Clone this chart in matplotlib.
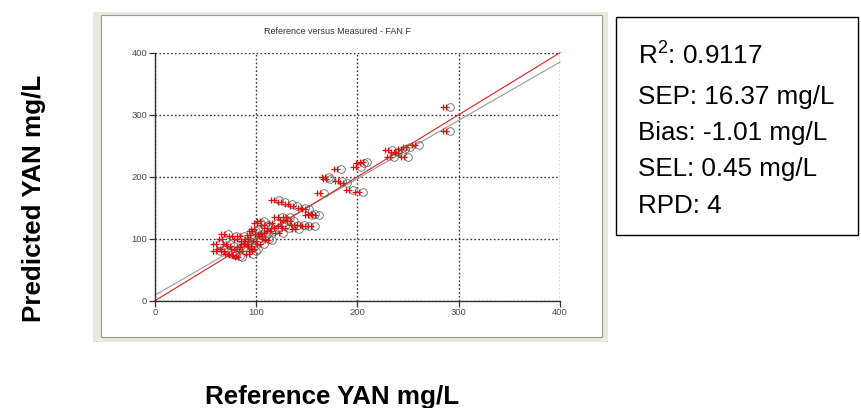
import matplotlib.pyplot as plt
from matplotlib.patches import Rectangle
import numpy as np

plt.rcParams['font.family'] = ['Liberation Sans', 'DejaVu Sans']
plt.rcParams['mathtext.fontset'] = 'custom'
plt.rcParams['mathtext.rm'] = 'Liberation Sans'

# reference vs predicted YAN (mg/L)
ref = [291, 291, 261, 250, 247, 240, 236, 252, 244, 234,
       209, 206, 203, 205, 196, 184, 185, 190, 172, 173, 167,
       122, 128, 135, 140, 148, 152, 158, 162, 155, 147, 152, 158, 141,
       130, 125, 133, 137, 128, 120, 122, 115, 112, 108, 105, 118, 112,
       110, 113, 116, 106, 102, 100, 98, 96, 95, 99, 100, 97, 102, 92,
       88, 85, 80, 72, 70, 64, 64, 68, 72, 76, 80, 84, 86, 82, 78, 74,
       88, 90, 92, 104, 108, 126, 132, 142]
pred = [313, 274, 251, 232, 245, 240, 232, 248, 238, 243,
        224, 222, 216, 176, 178, 212, 193, 190, 200, 197, 174,
        162, 159, 156, 152, 150, 148, 140, 138, 138, 122, 121, 120, 122,
        130, 135, 135, 128, 120, 125, 118, 118, 122, 128, 125, 112, 110,
        104, 100, 98, 108, 115, 112, 106, 100, 92, 88, 80, 75, 84, 96,
        104, 100, 104, 108, 100, 92, 80, 84, 80, 76, 74, 72, 70, 84, 88, 92,
        86, 80, 92, 96, 92, 110, 118, 115]

# regression line of the model and the 1:1 line
fit_x = [0, 400]
fit_y = [9, 385]
ideal = [0, 400]

stats = ["R$^{2}$: 0.9117", "SEP: 16.37 mg/L", "Bias: -1.01 mg/L",
         "SEL: 0.45 mg/L", "RPD: 4"]

W, H = 862, 408
fig = plt.figure(figsize=(W / 100, H / 100), dpi=100)


def fx(px):
    return px / W


def fy(py):
    return 1 - py / H


# window frame around the software plot
fig.patches.append(Rectangle((fx(93), fy(342)), fx(608 - 93), (342 - 12) / H,
                             transform=fig.transFigure, facecolor='#ebe8dc',
                             edgecolor='none', zorder=-2))
fig.patches.append(Rectangle((fx(101), fy(337)), fx(602 - 101), (337 - 15) / H,
                             transform=fig.transFigure, facecolor='white',
                             edgecolor='#9a9a9a', linewidth=0.8, zorder=-1))

ax = fig.add_axes([fx(155), fy(300.7), fx(560 - 155), (300.7 - 52.7) / H])
ax.set_facecolor('white')
ax.set_xlim(0, 400)
ax.set_ylim(0, 400)
ax.set_xticks([0, 100, 200, 300, 400])
ax.set_yticks([0, 100, 200, 300, 400])
ax.tick_params(labelsize=6.8, labelcolor='#4a4a4a', color='#333333',
               length=4, width=0.9, pad=1.5)
for s in ['top', 'right']:
    ax.spines[s].set_visible(False)
for s in ['left', 'bottom']:
    ax.spines[s].set_color('#333333')
    ax.spines[s].set_linewidth(1.0)
ax.grid(True, color='#333333', linestyle=(0, (1.2, 1.6)), linewidth=1.0)
ax.set_axisbelow(True)

ax.plot(fit_x, fit_y, color='#999999', linewidth=0.8, zorder=2, clip_on=False)
ax.plot(ideal, ideal, color='#e02020', linewidth=0.8, zorder=2, clip_on=False)

r = np.array(ref)
p = np.array(pred)
ax.plot(r, p, linestyle='none', marker='o', markersize=5.5,
        markerfacecolor='none', markeredgecolor='#666666',
        markeredgewidth=0.6, zorder=3)
ax.plot(r - 7, p, linestyle='none', marker='+', markersize=5,
        color='#e01010', markeredgewidth=0.9, zorder=4)
ax.plot(r - 4, p, linestyle='none', marker='+', markersize=5,
        color='#e01010', markeredgewidth=0.9, zorder=4)

fig.text(fx(337), fy(32), "Reference versus Measured - FAN F",
         fontsize=6.5, color='#333333', ha='center', va='center')

# statistics box
fig.patches.append(Rectangle((fx(616), fy(235)), fx(858 - 616), (235 - 17) / H,
                             transform=fig.transFigure, facecolor='white',
                             edgecolor='black', linewidth=1.0, zorder=-1))
for txt, yb in zip(stats, [63.3, 104, 140, 176, 213]):
    fig.text(fx(638), fy(yb), txt, fontsize=18.7, ha='left',
             va='baseline', color='black')

fig.text(fx(332), fy(404), "Reference YAN mg/L", fontsize=18.7,
         fontweight='bold', ha='center', va='baseline')
fig.text(fx(34), fy(198), "Predicted YAN mg/L", fontsize=18.7,
         fontweight='bold', ha='center', va='center', rotation=90)

fig.savefig("out.png", dpi=100)
